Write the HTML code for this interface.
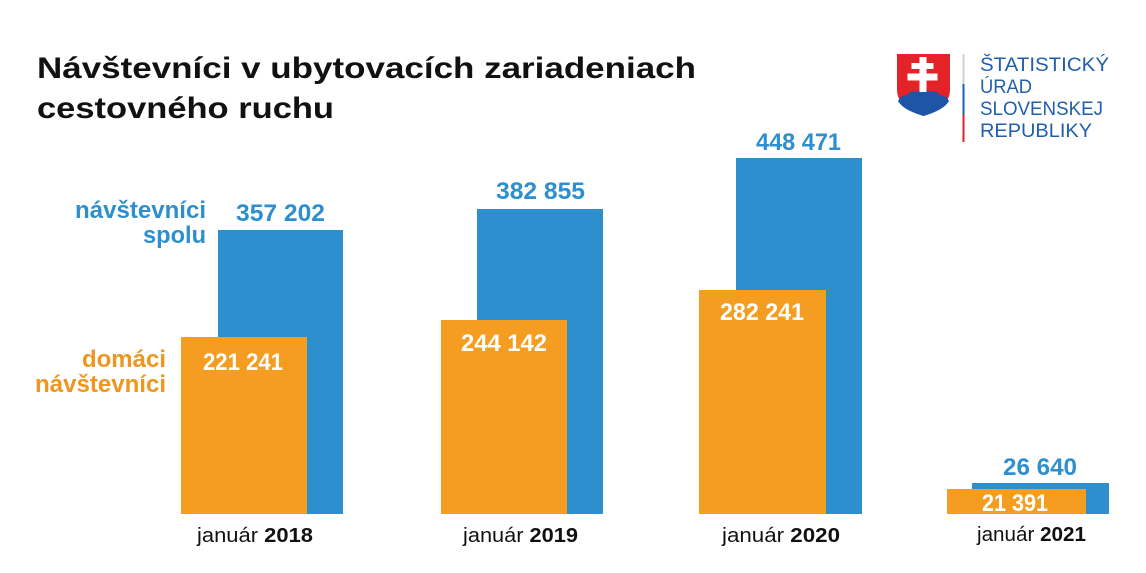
<!DOCTYPE html>
<html>
<head>
<meta charset="utf-8">
<style>
  html, body { margin:0; padding:0; background:#fff; }
  svg { display:block; }
  text { font-family: "Liberation Sans", "DejaVu Sans", sans-serif; }
</style>
</head>
<body>
<svg width="1146" height="573" viewBox="0 0 1146 573" xmlns="http://www.w3.org/2000/svg">
  <rect x="0" y="0" width="1146" height="573" fill="#ffffff"/>

  <!-- Title -->
  <text x="37" y="78" font-size="30" font-weight="bold" fill="#111111" textLength="659" lengthAdjust="spacingAndGlyphs">Návštevníci v ubytovacích zariadeniach</text>
  <text x="37" y="118" font-size="30" font-weight="bold" fill="#111111" textLength="297" lengthAdjust="spacingAndGlyphs">cestovného ruchu</text>

  <!-- Logo shield -->
  <path d="M897 54 L950 54 L950 90 Q950 107 923.5 116 Q897 107 897 90 Z" fill="#e42328"/>
  <path d="M898 101 Q901 95 907 95 Q911 90 917 92 Q923 86 930 92 Q936 90 940 95 Q946 95 949 101 Q944 110 923.5 116 Q903 110 898 101 Z" fill="#1e55a6"/>
  <!-- double cross -->
  <rect x="919.5" y="57" width="7" height="35" fill="#ffffff"/>
  <rect x="911.5" y="63" width="22" height="6" fill="#ffffff"/>
  <rect x="907.5" y="73.5" width="30" height="7" fill="#ffffff"/>
  <!-- vertical divider -->
  <rect x="962.5" y="54" width="2" height="30" fill="#cfcfcf"/>
  <rect x="962.5" y="84" width="2" height="31" fill="#1e5fae"/>
  <rect x="962.5" y="115" width="2" height="27" fill="#e42328"/>
  <!-- logo text -->
  <g font-size="19" fill="#1f5fae">
    <text x="980" y="71" textLength="129" lengthAdjust="spacingAndGlyphs">ŠTATISTICKÝ</text>
    <text x="980" y="93" textLength="52" lengthAdjust="spacingAndGlyphs">ÚRAD</text>
    <text x="980" y="115" textLength="123" lengthAdjust="spacingAndGlyphs">SLOVENSKEJ</text>
    <text x="980" y="137" textLength="112" lengthAdjust="spacingAndGlyphs">REPUBLIKY</text>
  </g>

  <!-- Legend labels -->
  <g font-size="24" font-weight="bold">
    <text x="75" y="218" fill="#2e8fce" textLength="131" lengthAdjust="spacingAndGlyphs">návštevníci</text>
    <text x="143" y="243" fill="#2e8fce" textLength="63" lengthAdjust="spacingAndGlyphs">spolu</text>
    <text x="82" y="367" fill="#ee961f" textLength="84" lengthAdjust="spacingAndGlyphs">domáci</text>
    <text x="35" y="392" fill="#ee961f" textLength="131" lengthAdjust="spacingAndGlyphs">návštevníci</text>
  </g>

  <!-- Bars: blue (total) -->
  <g fill="#2e8fce">
    <rect x="218" y="230" width="125" height="284"/>
    <rect x="477" y="209" width="126" height="305"/>
    <rect x="736" y="158" width="126" height="356"/>
    <rect x="972" y="483" width="137" height="31"/>
  </g>
  <!-- Bars: orange (domestic) -->
  <g fill="#f59d21">
    <rect x="181" y="337" width="126" height="177"/>
    <rect x="441" y="320" width="126" height="194"/>
    <rect x="699" y="290" width="127" height="224"/>
    <rect x="947" y="489" width="139" height="25"/>
  </g>

  <!-- Blue value labels -->
  <g font-size="24" font-weight="bold" fill="#2e8fce">
    <text x="236" y="221" textLength="89" lengthAdjust="spacingAndGlyphs">357 202</text>
    <text x="496" y="199" textLength="89" lengthAdjust="spacingAndGlyphs">382 855</text>
    <text x="756" y="150" textLength="85" lengthAdjust="spacingAndGlyphs">448 471</text>
    <text x="1003" y="475" textLength="74" lengthAdjust="spacingAndGlyphs">26 640</text>
  </g>
  <!-- White value labels on orange bars -->
  <g font-size="24" font-weight="bold" fill="#ffffff">
    <text x="203" y="370" textLength="80" lengthAdjust="spacingAndGlyphs">221 241</text>
    <text x="461" y="351" textLength="86" lengthAdjust="spacingAndGlyphs">244 142</text>
    <text x="720" y="320" textLength="84" lengthAdjust="spacingAndGlyphs">282 241</text>
    <text x="982" y="511" textLength="66" lengthAdjust="spacingAndGlyphs">21 391</text>
  </g>

  <!-- Category labels -->
  <g font-size="20" fill="#111111">
    <text x="197" y="542" textLength="116" lengthAdjust="spacingAndGlyphs">január <tspan font-weight="bold">2018</tspan></text>
    <text x="463" y="542" textLength="115" lengthAdjust="spacingAndGlyphs">január <tspan font-weight="bold">2019</tspan></text>
    <text x="722" y="542" textLength="118" lengthAdjust="spacingAndGlyphs">január <tspan font-weight="bold">2020</tspan></text>
    <text x="977" y="541" textLength="109" lengthAdjust="spacingAndGlyphs">január <tspan font-weight="bold">2021</tspan></text>
  </g>
</svg>
</body>
</html>
